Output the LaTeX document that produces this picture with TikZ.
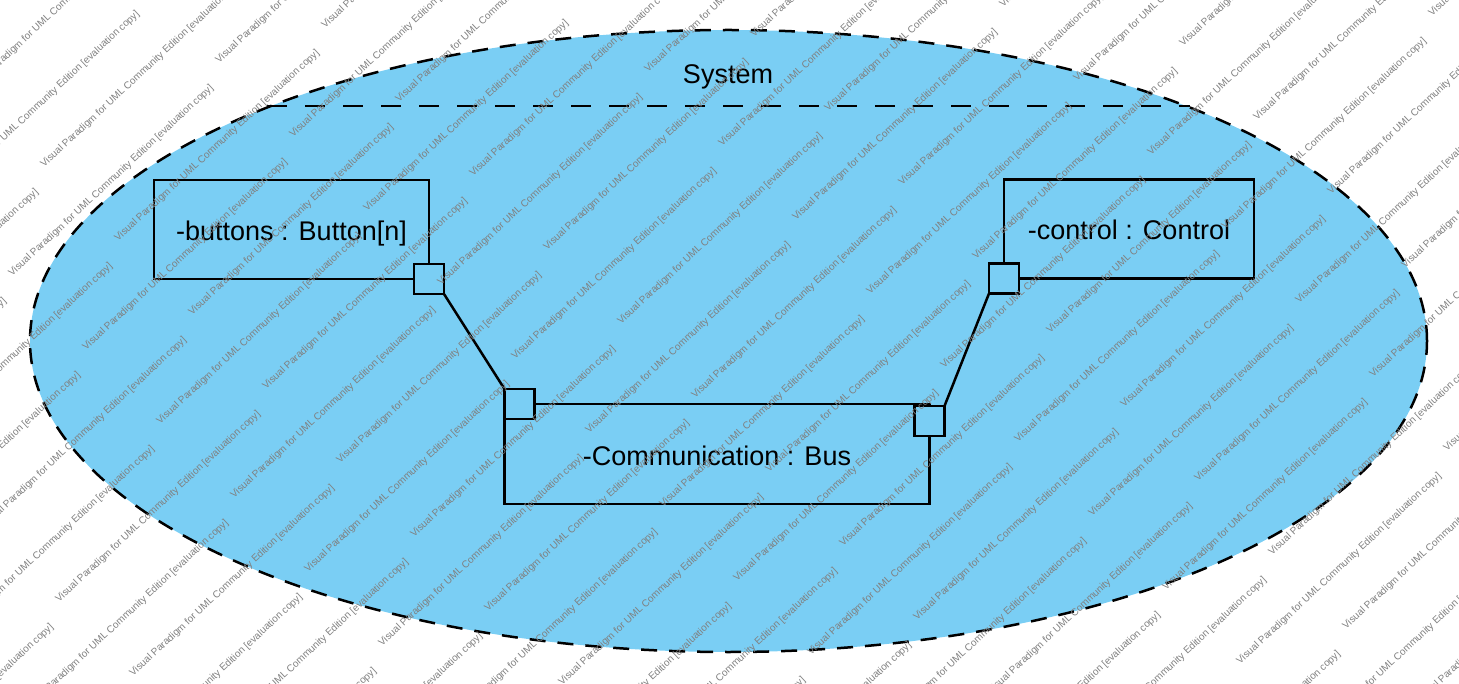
\documentclass[tikz,border=0pt]{standalone}
\usepackage{tikz}
\usepackage{fontspec}
\setmainfont{Liberation Sans}
\usetikzlibrary{shapes.geometric}
\definecolor{sysblue}{RGB}{122,206,244}
\definecolor{wmgray}{RGB}{128,128,128}

\begin{document}
\begin{tikzpicture}[x=1pt,y=-1pt]
    % Define style for the parts, ports and the watermark
    \tikzstyle{part} = [rectangle, minimum height=99pt, outer sep=0pt, text centered, text height=22pt, text depth=0pt, draw=black, fill=sysblue, line width=2.5pt, font=\fontsize{27}{32}\selectfont]
    \tikzstyle{port} = [rectangle, minimum size=30pt, inner sep=0pt, outer sep=0pt, draw=black, fill=sysblue, line width=2.5pt]
    \tikzstyle{wm} = [rotate=43, anchor=base west, inner sep=0pt, text=wmgray, font=\fontsize{10}{12}\selectfont]

    \useasboundingbox (0,0) rectangle (1459,684);

    % Draw the system
    \node[ellipse, minimum width=1397pt, minimum height=622pt, draw=black, fill=sysblue, line width=2.5pt, dash pattern=on 16pt off 12pt] (system) at (728.5,341) {};
    \node[text height=22pt, text depth=0pt, font=\fontsize{27}{32}\selectfont] (title) at (728,73) {System};
    \draw[line width=2.5pt, dash pattern=on 20pt off 18pt] (system.153) -- (system.27);

    % Draw the parts
    \node[part, minimum width=275pt] (buttons) at (291.5,229.5) {-buttons : Button[n]};
    \node[part, minimum width=250pt] (control) at (1129,229) {-control : Control};
    \node[part, minimum width=425pt, minimum height=100pt] (bus) at (717,454) {-Communication : Bus};

    % Draw the ports
    \node[port] (buttonsport) at (buttons.south east) {};
    \node[port] (controlport) at (control.south west) {};
    \node[port] (busport1) at ([xshift=15pt]bus.north west) {};
    \node[port] (busport2) at ([yshift=-17pt]bus.north east) {};

    % Draw the connectors between the ports
    \draw[line width=2.5pt] (buttonsport.south east) -- (busport1.north west);
    \draw[line width=2.5pt] (controlport.south west) -- (busport2.north east);

    % Draw the watermark (two shifted grids), only where it can show
    \begin{scope}
    \clip (0,0) rectangle (1459,684);
    \foreach \s/\dx/\dy in {0/0/0, 1/106/-35} {
        \foreach \i in {-12,...,9} {
            \foreach \j in {-4,...,3} {
                \pgfmathsetmacro\wx{1092+\dx+74*\i+355*\j}
                \pgfmathsetmacro\wy{517+\dy+74*\i-65*\j}
                \pgfmathparse{(\wx>-205)&&(\wx<1455)&&(\wy>5)&&(\wy<875)}
                \ifnum\pgfmathresult=1
                    \node[wm] (wm-\s-\i-\j) at (\wx,\wy) {Visual Paradigm for UML Community Edition [evaluation copy]};
                \fi
            }
        }
    }
    \end{scope}
\end{tikzpicture}
\end{document}
